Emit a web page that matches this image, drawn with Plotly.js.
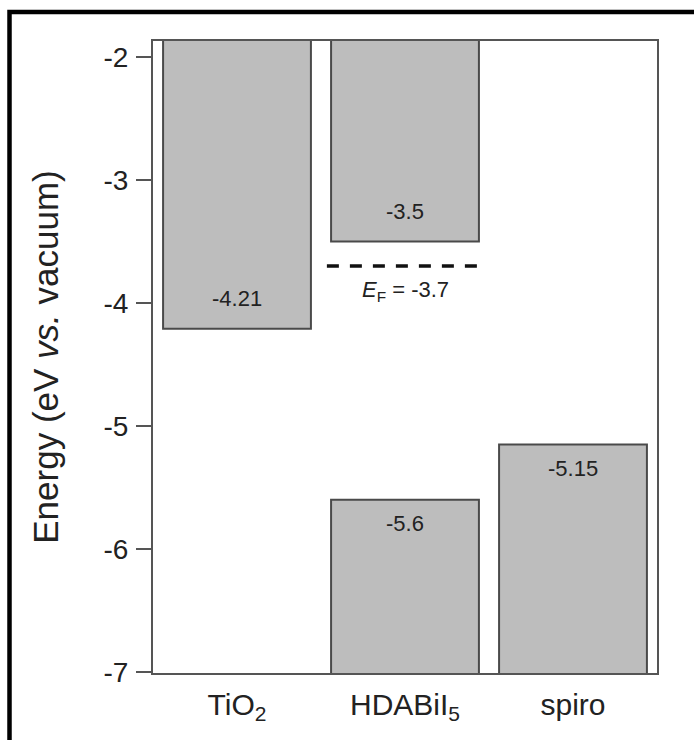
<!DOCTYPE html>
<html>
<head>
<meta charset="utf-8">
<script src="https://cdn.plot.ly/plotly-3.0.1.min.js"></script>
<style>
html,body{margin:0;padding:0;background:#fff;}
#chart{width:694px;height:740px;}
</style>
</head>
<body>
<div id="chart"></div>
<script>
// ---- data ----
const categories = ['TiO<sub>2</sub>', 'HDABiI<sub>5</sub>', 'spiro'];
const cbLevels = [-4.21, -3.5, null];     // conduction band / LUMO (eV)
const vbLevels = [null, -5.6, -5.15];     // valence band / HOMO (eV)
const fermiLevel = -3.7;                  // E_F of HDABiI5
const fermiCategory = 1;                  // index of HDABiI5
const yTickVals = [-2, -3, -4, -5, -6, -7];
const yTickText = ['-2', '-3', '-4', '-5', '-6', '-7'];

// ---- layout constants ----
const yRange = [-7.008, -1.87];
const barTopEdge = -1.0;   // bars run past the top of the plot (clipped)
const barBottomEdge = -8.0;
const barWidth = 0.88;
const fillCol = '#bdbdbd';
const edgeCol = '#4a4a4a';
const font = 'Liberation Sans, Arial, Helvetica, sans-serif';

const cbTrace = {
  type: 'bar',
  x: categories,
  base: cbLevels,
  y: cbLevels.map(v => v === null ? null : barTopEdge - v),
  width: barWidth,
  marker: {color: fillCol, line: {color: edgeCol, width: 2}},
  hoverinfo: 'skip',
  showlegend: false
};
const vbTrace = {
  type: 'bar',
  x: categories,
  base: vbLevels.map(v => v === null ? null : barBottomEdge),
  y: vbLevels.map(v => v === null ? null : v - barBottomEdge),
  width: barWidth,
  marker: {color: fillCol, line: {color: edgeCol, width: 2}},
  hoverinfo: 'skip',
  showlegend: false
};

const annotations = [];
categories.forEach((c, i) => {
  if (cbLevels[i] !== null) {
    annotations.push({x: c, y: cbLevels[i], xref: 'x', yref: 'y', text: String(cbLevels[i]),
      showarrow: false, yshift: 30, font: {family: font, size: 22, color: '#222'}});
  }
  if (vbLevels[i] !== null) {
    annotations.push({x: c, y: vbLevels[i], xref: 'x', yref: 'y', text: String(vbLevels[i]),
      showarrow: false, yshift: -24, font: {family: font, size: 22, color: '#222'}});
  }
});
annotations.push({x: categories[fermiCategory], y: fermiLevel, xref: 'x', yref: 'y',
  text: '<i>E</i><sub>F</sub> = ' + String(fermiLevel), showarrow: false, yshift: -25,
  font: {family: font, size: 22, color: '#222'}});

const layout = {
  width: 694, height: 740,
  margin: {l: 153, r: 37, t: 41, b: 67, pad: 0},
  paper_bgcolor: '#fff', plot_bgcolor: '#fff',
  barmode: 'overlay',
  font: {family: font, color: '#222'},
  xaxis: {
    type: 'category',
    range: [-0.5, 2.5],
    showgrid: false, zeroline: false,
    showline: true, mirror: true, linecolor: '#555', linewidth: 2,
    ticks: '', ticklabelstandoff: 4,
    tickfont: {family: font, size: 30, color: '#222'},
    fixedrange: true
  },
  yaxis: {
    range: yRange,
    tickvals: yTickVals, ticktext: yTickText,
    showgrid: false, zeroline: false,
    showline: true, mirror: true, linecolor: '#555', linewidth: 2,
    ticks: 'outside', ticklen: 15, tickwidth: 2, tickcolor: '#555',
    ticklabelstandoff: 2,
    tickfont: {family: font, size: 28, color: '#222'},
    title: {text: 'Energy (eV <i>vs.</i> vacuum)', font: {family: font, size: 35, color: '#222'}, standoff: 34},
    fixedrange: true
  },
  shapes: [
    {type: 'line', xref: 'x', yref: 'y',
      x0: fermiCategory - 0.465, x1: fermiCategory + 0.465, y0: fermiLevel, y1: fermiLevel,
      line: {color: '#111', width: 3.5, dash: '12px,11px'}},
    {type: 'rect', xref: 'paper', yref: 'paper',
      x0: (9.5 - 153) / 504, x1: (720 - 153) / 504, y0: (673 - 760) / 632, y1: (673 - 12) / 632,
      line: {color: '#000', width: 4.5}, fillcolor: 'rgba(0,0,0,0)', layer: 'above'}
  ],
  annotations: annotations
};

Plotly.newPlot('chart', [cbTrace, vbTrace], layout, {displayModeBar: false, staticPlot: true});
</script>
</body>
</html>
